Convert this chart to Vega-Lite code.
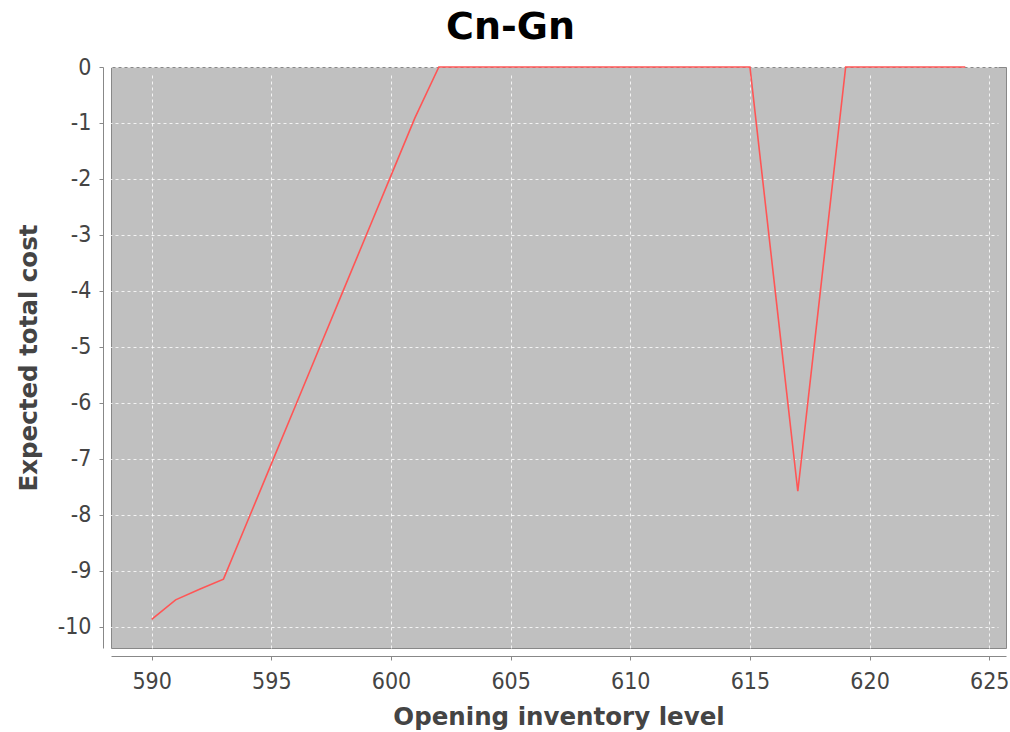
{
  "$schema": "https://vega.github.io/schema/vega-lite/v6.json",
  "width": 895,
  "height": 581,
  "autosize": "none",
  "padding": {"left": 111, "top": 67, "right": 4, "bottom": 84},
  "background": "white",
  "title": {"text": "Cn-Gn", "font": "DejaVu Sans", "fontSize": 38, "fontWeight": "bold", "color": "black", "anchor": "middle", "dx": -48, "offset": 9},
  "data": {"values": [
    {"x": 590, "y": -9.87}, {"x": 591, "y": -9.52}, {"x": 592, "y": -9.33}, {"x": 593, "y": -9.15},
    {"x": 594, "y": -8.12}, {"x": 595, "y": -7.09}, {"x": 596, "y": -6.06}, {"x": 597, "y": -5.03},
    {"x": 598, "y": -4.0}, {"x": 599, "y": -2.97}, {"x": 600, "y": -1.94}, {"x": 601, "y": -0.91},
    {"x": 602, "y": 0}, {"x": 603, "y": 0}, {"x": 604, "y": 0}, {"x": 605, "y": 0}, {"x": 606, "y": 0},
    {"x": 607, "y": 0}, {"x": 608, "y": 0}, {"x": 609, "y": 0}, {"x": 610, "y": 0}, {"x": 611, "y": 0},
    {"x": 612, "y": 0}, {"x": 613, "y": 0}, {"x": 614, "y": 0}, {"x": 615, "y": 0}, {"x": 616, "y": -3.79},
    {"x": 617, "y": -7.58}, {"x": 618, "y": -3.79}, {"x": 619, "y": 0}, {"x": 620, "y": 0}, {"x": 621, "y": 0},
    {"x": 622, "y": 0}, {"x": 623, "y": 0}, {"x": 624, "y": 0}
  ]},
  "mark": {"type": "line", "color": "#FF5555", "strokeWidth": 1.6, "clip": false},
  "encoding": {
    "x": {"field": "x", "type": "quantitative", "title": "Opening inventory level",
      "scale": {"domain": [588.3, 625.7], "nice": false, "zero": false},
      "axis": {"values": [590, 595, 600, 605, 610, 615, 620, 625], "labelPadding": 10, "titlePadding": 12}},
    "y": {"field": "y", "type": "quantitative", "title": "Expected total cost",
      "scale": {"domain": [-10.38, 0], "nice": false, "zero": false},
      "axis": {"values": [-10, -9, -8, -7, -6, -5, -4, -3, -2, -1, 0], "labelPadding": 8, "titlePadding": 16,
        "labelExpr": "replace(datum.label, '−', '-')"}}
  },
  "config": {
    "view": {"fill": "#C0C0C0", "stroke": "#888888", "strokeWidth": 1},
    "axis": {
      "offset": 8,
      "domainColor": "#888888", "tickColor": "#888888", "tickSize": 4,
      "labelColor": "#444444", "labelFont": "DejaVu Sans Condensed, Noto Sans", "labelFontSize": 23,
      "titleFont": "DejaVu Sans", "titleFontSize": 24.5, "titleFontWeight": "bold", "titleColor": "#444444",
      "gridColor": "#FFFFFF", "gridDash": [3, 3], "gridWidth": 1, "gridOpacity": 0.8
    }
  }
}
